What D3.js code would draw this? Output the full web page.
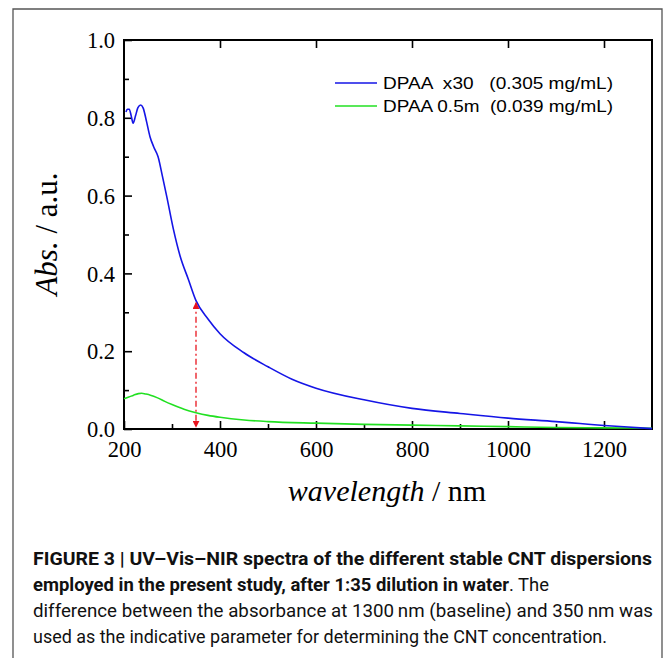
<!DOCTYPE html>
<html>
<head>
<meta charset="utf-8">
<script src="https://cdn.jsdelivr.net/npm/d3@7"></script>
<style>
  html, body { margin: 0; padding: 0; background: #fff; }
  svg { display: block; }
  .tick text { font-family: "Liberation Serif", "Times New Roman", serif; font-size: 22.5px; fill: #000; }
  .tick line { stroke: #000; stroke-width: 1.6; }
</style>
</head>
<body>
<svg id="chart" width="671" height="658"></svg>
<script>
// spectra (wavelength in nm, absorbance in a.u.)
const blueWl  = [204, 207, 211, 215, 219, 224, 229, 235, 240, 247, 254, 262, 271, 280, 289, 303, 317, 334, 350, 375, 400, 450, 500, 550, 600, 700, 800, 900, 1000, 1100, 1150, 1200, 1250, 1300];
const blueAbs = [0.815, 0.822, 0.822, 0.805, 0.786, 0.805, 0.826, 0.833, 0.825, 0.790, 0.752, 0.725, 0.700, 0.650, 0.598, 0.513, 0.444, 0.385, 0.330, 0.283, 0.245, 0.196, 0.160, 0.128, 0.105, 0.075, 0.053, 0.040, 0.028, 0.019, 0.014, 0.009, 0.005, 0.001];

const greenWl  = [200, 210, 220, 230, 237, 245, 255, 270, 285, 300, 325, 350, 375, 400, 450, 500, 600, 700, 800, 900, 1000, 1100, 1200, 1300];
const greenAbs = [0.078, 0.082, 0.087, 0.091, 0.092, 0.090, 0.087, 0.080, 0.071, 0.063, 0.051, 0.042, 0.035, 0.030, 0.023, 0.019, 0.015, 0.012, 0.010, 0.008, 0.006, 0.004, 0.003, 0.002];

const seriesNames = ['DPAA  x30   (0.305 mg/mL)', 'DPAA 0.5m  (0.039 mg/mL)'];
const seriesColors = ['#1515e6', '#22e022'];

const xMajor = [200, 400, 600, 800, 1000, 1200];
const xMinor = [300, 500, 700, 900, 1100];
const yMajor = [0.0, 0.2, 0.4, 0.6, 0.8, 1.0];
const yMinor = [0.1, 0.3, 0.5, 0.7, 0.9];

const markWl = 350; // wavelength of the red arrow

const captionLines = [
  'FIGURE 3 | UV\u2013Vis\u2013NIR spectra of the different stable CNT dispersions',
  'employed in the present study, after 1:35 dilution in water',
  '. The',
  'difference between the absorbance at 1300\u2009nm (baseline) and 350\u2009nm was',
  'used as the indicative parameter for determining the CNT concentration.'
];

const svg = d3.select('#chart');
const plotL = 124, plotR = 652, plotT = 40, plotB = 429;

const x = d3.scaleLinear().domain([200, 1300]).range([plotL, plotR]);
const y = d3.scaleLinear().domain([0, 1]).range([plotB, plotT]);

// outer figure frame
svg.append('path')
  .attr('d', `M13,660 V9 H662 V660`)
  .attr('fill', 'none').attr('stroke', '#555').attr('stroke-width', 1.3);

// axes
svg.append('g').attr('transform', `translate(0,${plotB})`)
  .call(d3.axisBottom(x).tickValues(xMajor).tickSize(-8).tickPadding(12).tickFormat(d3.format('d')))
  .call(g => g.select('.domain').remove());
svg.append('g').attr('transform', `translate(0,${plotB})`)
  .call(d3.axisBottom(x).tickValues(xMinor).tickSize(-5).tickFormat(''))
  .call(g => g.select('.domain').remove());
svg.append('g').attr('transform', `translate(0,${plotT})`)
  .call(d3.axisTop(x).tickValues(xMajor.slice(1)).tickSize(-8).tickFormat(''))
  .call(g => g.select('.domain').remove());

svg.append('g').attr('transform', `translate(${plotL},0)`)
  .call(d3.axisLeft(y).tickValues(yMajor).tickSize(-8).tickPadding(9).tickFormat(d3.format('.1f')))
  .call(g => g.select('.domain').remove())
  .call(g => g.selectAll('.tick text').attr('dy', '0.34em'));
svg.append('g').attr('transform', `translate(${plotL},0)`)
  .call(d3.axisLeft(y).tickValues(yMinor).tickSize(-5).tickFormat(''))
  .call(g => g.select('.domain').remove());

svg.append('rect')
  .attr('x', plotL).attr('y', plotT)
  .attr('width', plotR - plotL).attr('height', plotB - plotT)
  .attr('fill', 'none').attr('stroke', '#000').attr('stroke-width', 2);

// spectra
const line = d3.line().x(d => x(d[0])).y(d => y(d[1])).curve(d3.curveMonotoneX);
svg.append('path')
  .datum(d3.zip(greenWl, greenAbs))
  .attr('d', line).attr('fill', 'none')
  .attr('stroke', seriesColors[1]).attr('stroke-width', 1.6);
svg.append('path')
  .datum(d3.zip(blueWl, blueAbs))
  .attr('d', line).attr('fill', 'none')
  .attr('stroke', seriesColors[0]).attr('stroke-width', 1.6);

// red double arrow at 350 nm
const defs = svg.append('defs');
defs.append('marker').attr('id', 'ah')
  .attr('viewBox', '0 0 10 10').attr('refX', 9).attr('refY', 5)
  .attr('markerWidth', 7).attr('markerHeight', 7)
  .attr('markerUnits', 'userSpaceOnUse')
  .attr('orient', 'auto-start-reverse')
  .append('path').attr('d', 'M0,0 L10,5 L0,10 Z').attr('fill', '#e8141e');

const markTop = blueAbs[blueWl.indexOf(markWl)];
svg.append('line')
  .attr('x1', x(markWl)).attr('x2', x(markWl))
  .attr('y1', y(markTop) + 2).attr('y2', y(0) - 2)
  .attr('stroke', '#e8141e').attr('stroke-width', 1.3)
  .attr('stroke-dasharray', '6,3,2,3')
  .attr('marker-start', 'url(#ah)').attr('marker-end', 'url(#ah)');

// legend
const legend = svg.append('g');
seriesNames.forEach((name, i) => {
  const ly = 83 + i * 23;
  legend.append('line')
    .attr('x1', 335).attr('x2', 377).attr('y1', ly).attr('y2', ly)
    .attr('stroke', seriesColors[i]).attr('stroke-width', 1.6);
  legend.append('text')
    .attr('x', 383).attr('y', ly + 6)
    .attr('xml:space', 'preserve')
    .style('white-space', 'pre')
    .attr('textLength', 230).attr('lengthAdjust', 'spacingAndGlyphs')
    .attr('font-family', '"Liberation Sans", Arial, sans-serif')
    .attr('font-size', 17)
    .text(name);
});

// axis titles
const yt = svg.append('text')
  .attr('transform', 'translate(57,234) rotate(-90)')
  .attr('text-anchor', 'middle')
  .attr('font-family', '"Liberation Serif", "Times New Roman", serif')
  .attr('font-size', 31);
yt.append('tspan').attr('font-style', 'italic').text('Abs.');
yt.append('tspan').text(' / a.u.');

const xt = svg.append('text')
  .attr('x', 387).attr('y', 501)
  .attr('text-anchor', 'middle')
  .attr('font-family', '"Liberation Serif", "Times New Roman", serif')
  .attr('font-size', 30);
xt.append('tspan').attr('font-style', 'italic').text('wavelength');
xt.append('tspan').text(' / nm');

// caption
const capFont = '"Liberation Sans Narrow", "Roboto", "Liberation Sans", sans-serif';
const cap = svg.append('g').attr('font-family', capFont).attr('font-size', 19).attr('fill', '#111');
const capRows = [
  { parts: [[captionLines[0], true]], y: 565, w: 619 },
  { parts: [[captionLines[1], true], [captionLines[2], false]], y: 591, w: 516 },
  { parts: [[captionLines[3], false]], y: 617, w: 620 },
  { parts: [[captionLines[4], false]], y: 643, w: 574 }
];
capRows.forEach(r => {
  const t = cap.append('text')
    .attr('x', 33).attr('y', r.y)
    .attr('textLength', r.w).attr('lengthAdjust', 'spacingAndGlyphs');
  r.parts.forEach(([s, bold]) => {
    t.append('tspan').attr('font-weight', bold ? 'bold' : 'normal').text(s);
  });
});
</script>
</body>
</html>
